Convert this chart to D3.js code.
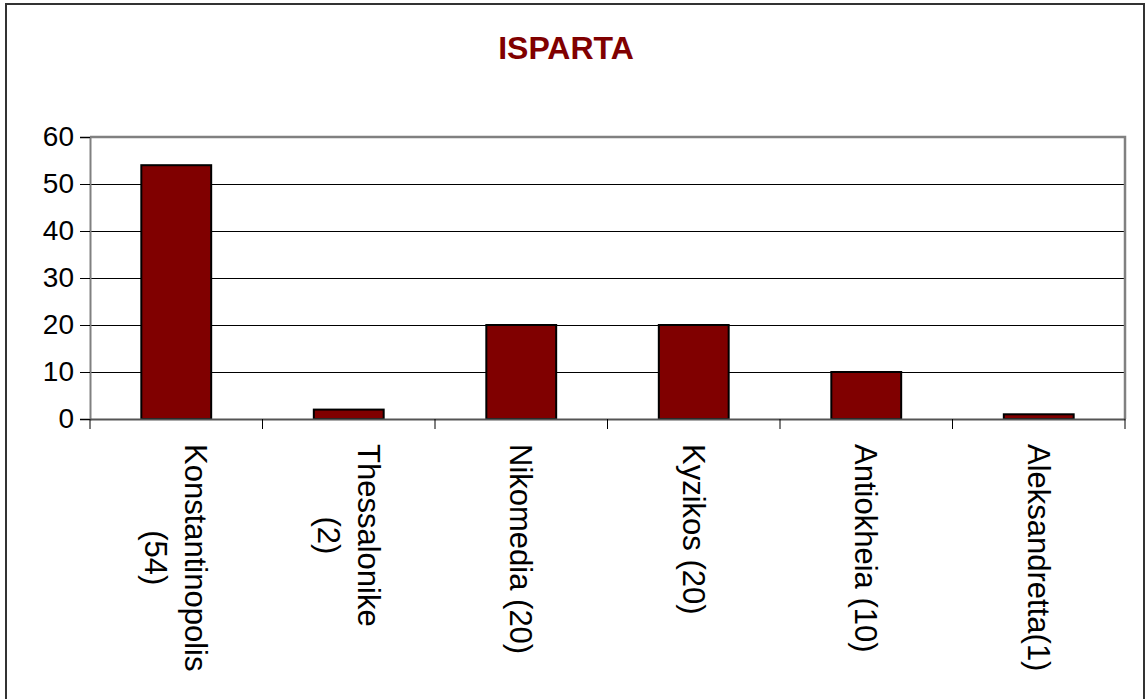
<!DOCTYPE html>
<html>
<head>
<meta charset="utf-8">
<script src="https://cdn.jsdelivr.net/npm/d3@7"></script>
<style>
  body { margin: 0; background: #fff; }
  text { font-family: Arial, "Liberation Sans", sans-serif; }
</style>
</head>
<body>
<svg id="chart" width="1145" height="699"></svg>
<script>
var categories = [
  ["Konstantinopolis", "(54)"],
  ["Thessalonike", "(2)"],
  ["Nikomedia (20)"],
  ["Kyzikos (20)"],
  ["Antiokheia (10)"],
  ["Aleksandretta(1)"]
];
var values = [54, 2, 20, 20, 10, 1];
var yTicks = [0, 10, 20, 30, 40, 50, 60];

var svg = d3.select("#chart"),
    width = +svg.attr("width"),
    height = +svg.attr("height");

var plotLeft = 90, plotRight = 1125, plotTop = 137, plotBottom = 419;

// outer frame
svg.append("rect")
    .attr("x", 6).attr("y", 4)
    .attr("width", 1138).attr("height", 720)
    .attr("fill", "none").attr("stroke", "#333").attr("stroke-width", 2);

svg.append("text")
    .attr("x", 566).attr("y", 59)
    .attr("text-anchor", "middle")
    .attr("font-size", 32).attr("font-weight", "bold")
    .attr("fill", "#800000")
    .text("ISPARTA");

var x = d3.scaleBand()
    .domain(d3.range(values.length))
    .range([plotLeft, plotRight])
    .padding(0);

var y = d3.scaleLinear()
    .domain([0, 60])
    .range([plotBottom, plotTop]);

// gridlines (half pixel so they stay crisp)
svg.append("g")
  .selectAll("line")
  .data(yTicks.filter(function(d) { return d > 0 && d < 60; }))
  .enter().append("line")
    .attr("x1", plotLeft).attr("x2", plotRight)
    .attr("y1", function(d) { return Math.round(y(d)) + 0.5; })
    .attr("y2", function(d) { return Math.round(y(d)) + 0.5; })
    .attr("stroke", "#000").attr("stroke-width", 1);

// plot border top/right (gray)
svg.append("path")
    .attr("d", "M" + plotLeft + "," + y(60) + "H" + plotRight + "V" + plotBottom)
    .attr("fill", "none").attr("stroke", "#808080").attr("stroke-width", 2.5);

// bars
var barW = x.bandwidth() * 0.405;
svg.append("g")
  .selectAll("rect")
  .data(values)
  .enter().append("rect")
    .attr("x", function(d, i) { return x(i) + x.bandwidth() / 2 - barW / 2; })
    .attr("y", function(d) { return y(d); })
    .attr("width", barW)
    .attr("height", function(d) { return y(0) - y(d); })
    .attr("fill", "#800000")
    .attr("stroke", "#000").attr("stroke-width", 2);

// y axis
var yAxis = svg.append("g")
    .attr("transform", "translate(" + plotLeft + ",0)")
    .call(d3.axisLeft(y).tickValues(yTicks).tickSize(10).tickPadding(6).tickFormat(d3.format("d")));
yAxis.select(".domain").attr("stroke", "#808080").attr("stroke-width", 2);
yAxis.selectAll(".tick line").attr("stroke", "#000");
yAxis.selectAll(".tick text")
    .attr("font-size", 28).attr("fill", "#000")
    .attr("font-family", "Arial, 'Liberation Sans', sans-serif");

// x axis
var xAxis = svg.append("g")
    .attr("transform", "translate(0," + plotBottom + ")")
    .call(d3.axisBottom(x).tickSize(0).tickFormat(""));
xAxis.select(".domain").attr("stroke", "#555").attr("stroke-width", 2);
xAxis.selectAll(".tick").remove();

var boundaries = d3.range(values.length + 1).map(function(i) { return plotLeft + i * x.step(); });
xAxis.selectAll("line.sep")
  .data(boundaries)
  .enter().append("line")
    .attr("class", "sep")
    .attr("x1", function(d) { return d; }).attr("x2", function(d) { return d; })
    .attr("y1", 0).attr("y2", 10)
    .attr("stroke", "#000");

// category labels, rotated; extra lines centred on the first one
categories.forEach(function(lines, i) {
  var cx = x(i) + x.bandwidth() / 2;
  var n = lines.length;
  var firstLen = 0;
  lines.forEach(function(t, j) {
    var off = (n - 1) * 20 - j * 40;   // first line on right
    var txt = svg.append("text")
        .attr("font-size", 31)
        .attr("fill", "#000")
        .text(t);
    if (j == 0) {
      firstLen = txt.node().getComputedTextLength();
      txt.attr("transform", "translate(" + (cx + off - 11) + ",444) rotate(90)");
    } else {
      txt.attr("text-anchor", "middle")
         .attr("transform", "translate(" + (cx + off - 11) + "," + (444 + firstLen / 2) + ") rotate(90)");
    }
  });
});
</script>
</body>
</html>
